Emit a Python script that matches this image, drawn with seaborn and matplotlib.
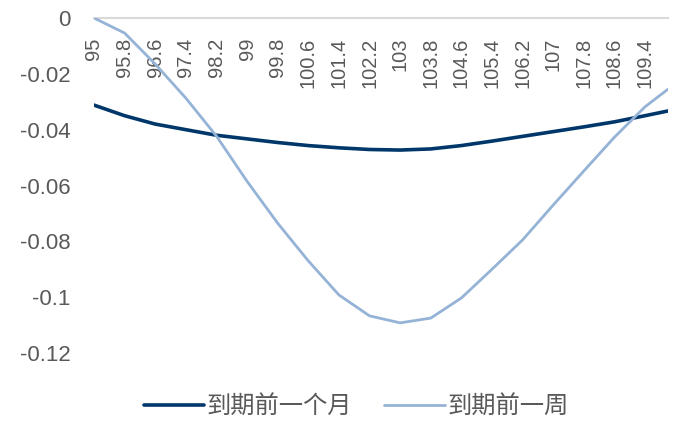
import matplotlib
matplotlib.use("Agg")
import matplotlib.pyplot as plt
import numpy as np
import pandas as pd
import seaborn as sb

# strike prices (every 0.8, plus the last point)
strike = [95, 95.8, 96.6, 97.4, 98.2, 99, 99.8, 100.6, 101.4, 102.2, 103,
          103.8, 104.6, 105.4, 106.2, 107, 107.8, 108.6, 109.4, 110]
month_before = [-0.0312, -0.0350, -0.0380, -0.0400, -0.0420, -0.0433, -0.0446,
                -0.0457, -0.0465, -0.0471, -0.0473, -0.0469, -0.0457, -0.0441,
                -0.0424, -0.0407, -0.0390, -0.0372, -0.0350, -0.0333]
week_before = [0.0, -0.0054, -0.0165, -0.0287, -0.0423, -0.0585, -0.0735,
               -0.0870, -0.0992, -0.1067, -0.1092, -0.1075, -0.1003, -0.0900,
               -0.0795, -0.0670, -0.0548, -0.0427, -0.0318, -0.0255]
xticks = [95, 95.8, 96.6, 97.4, 98.2, 99, 99.8, 100.6, 101.4, 102.2, 103,
          103.8, 104.6, 105.4, 106.2, 107, 107.8, 108.6, 109.4]
xticklabels = ["95", "95.8", "96.6", "97.4", "98.2", "99", "99.8", "100.6",
               "101.4", "102.2", "103", "103.8", "104.6", "105.4", "106.2",
               "107", "107.8", "108.6", "109.4"]
yticks = [0, -0.02, -0.04, -0.06, -0.08, -0.1, -0.12]
yticklabels = ["0", "-0.02", "-0.04", "-0.06", "-0.08", "-0.1", "-0.12"]

df = pd.DataFrame({"strike": strike, "month": month_before, "week": week_before})

sb.set_theme(style="white")
plt.rcParams['font.family'] = ['Liberation Sans', 'Noto Sans CJK SC', 'DejaVu Sans']
txt = '#595959'

fig = plt.figure(figsize=(6.75, 4.29), dpi=100)
ax = fig.add_axes([94/675, 1-353/429, (668-94)/675, (353-18)/429])

sb.lineplot(data=df, x="strike", y="month", color='#00376b', linewidth=2.6,
            label='到期前一个月', ax=ax, errorbar=None)
sb.lineplot(data=df, x="strike", y="week", color='#95b3d7', linewidth=2.0,
            label='到期前一周', ax=ax, errorbar=None)

ax.set_xlim(95, 110)
ax.set_ylim(-0.12, 0)
ax.set_xlabel('')
ax.set_ylabel('')

for s in ['top', 'left', 'right']:
    ax.spines[s].set_visible(False)
ax.spines['bottom'].set_position(('data', 0))
ax.spines['bottom'].set_color('#d9d9d9')
ax.spines['bottom'].set_linewidth(1.5)
ax.spines['bottom'].set_zorder(0)

ax.set_xticks(xticks)
ax.set_xticklabels(xticklabels, rotation=90, fontsize=14.5, color=txt, va='top', ha='center')
ax.set_yticks(yticks)
ax.set_yticklabels(yticklabels, fontsize=16, color=txt)
ax.tick_params(axis='x', length=0, pad=14)
ax.tick_params(axis='y', length=0, pad=17)

leg = ax.legend(loc='center', bbox_to_anchor=(356/675, 1-407/429),
                bbox_transform=fig.transFigure, ncol=2, frameon=False,
                fontsize=17.5, handlelength=2.5, columnspacing=1.3, handletextpad=0.1)
for t in leg.get_texts():
    t.set_color(txt)

fig.savefig('out.png', dpi=100)
